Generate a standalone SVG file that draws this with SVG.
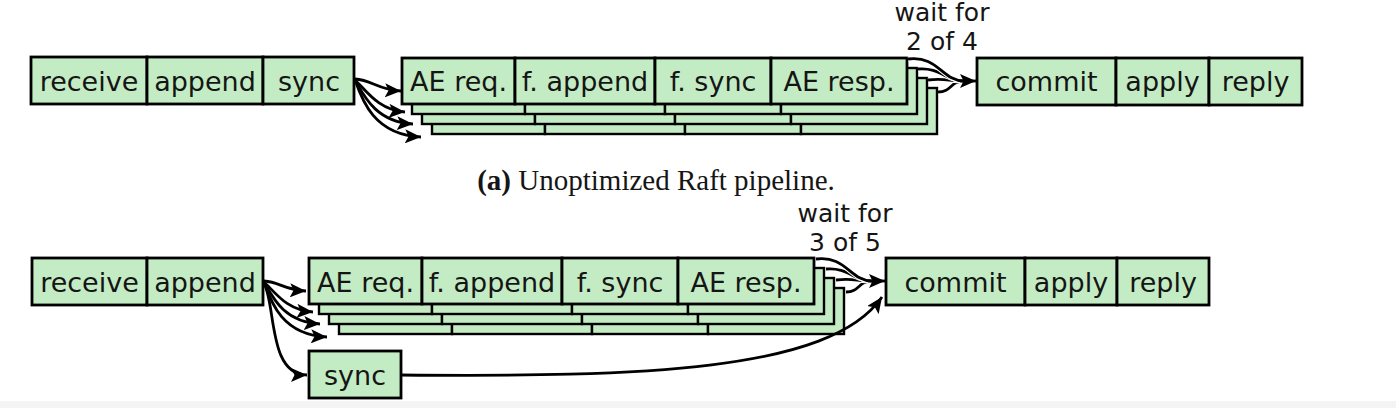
<svg xmlns="http://www.w3.org/2000/svg" width="1396" height="408" viewBox="0 0 1396 408">
<style>
.b{fill:#c4ecc4;stroke:#000;stroke-width:2.8}
.l{fill:#c4ecc4;stroke:#000;stroke-width:2.4}
.t{font-family:"DejaVu Sans",sans-serif;font-size:27px;fill:#151515;text-anchor:middle}
.w{font-family:"DejaVu Sans",sans-serif;font-size:25px;fill:#151515;text-anchor:middle}
.c{fill:none;stroke:#000;stroke-width:2.8}
.h{fill:none;stroke:#fff;stroke-width:5}
.cap{font-family:"Liberation Serif",serif;font-size:29px;fill:#151515;text-anchor:middle}
</style>
<defs>
<marker id="ah" markerUnits="userSpaceOnUse" markerWidth="18" markerHeight="14" refX="16" refY="7" orient="auto">
<path d="M0,0 L16,7 L0,14 L3.5,7 z" fill="#000"/>
</marker>
<g id="stk1">
<rect x="0" y="0" width="113" height="46"/>
<rect x="113" y="0" width="140" height="46"/>
<rect x="253" y="0" width="116" height="46"/>
<rect x="369" y="0" width="136" height="46"/>
</g>
</defs>
<rect x="0" y="0" width="1396" height="408" fill="#fff"/>
<rect x="0" y="401" width="1396" height="7" fill="#f4f4f4"/>

<!-- Top: unoptimized -->
<g id="top-leader">
<rect class="b" x="31" y="57" width="116" height="47"/>
<rect class="b" x="147" y="57" width="116" height="47"/>
<rect class="b" x="263" y="57" width="91" height="47"/>
<text class="t" x="89" y="91">receive</text>
<text class="t" x="205" y="91">append</text>
<text class="t" x="309" y="91">sync</text>
</g>
<g id="top-followers">
<use href="#stk1" class="l" x="432" y="88"/>
<use href="#stk1" class="l" x="422" y="78"/>
<use href="#stk1" class="l" x="412" y="68"/>
<use href="#stk1" class="b" x="402" y="58"/>
<text class="t" x="458.5" y="91">AE req.</text>
<text class="t" x="585" y="91">f. append</text>
<text class="t" x="713" y="91">f. sync</text>
<text class="t" x="839" y="91">AE resp.</text>
</g>
<g id="top-commit">
<rect class="b" x="977" y="58" width="139" height="47"/>
<rect class="b" x="1116" y="58" width="93" height="47"/>
<rect class="b" x="1209" y="58" width="93" height="47"/>
<text class="t" x="1046.5" y="91">commit</text>
<text class="t" x="1162.5" y="91">apply</text>
<text class="t" x="1255.5" y="91">reply</text>
</g>
<g id="top-wait">
<text class="w" x="942" y="20.5">wait for<tspan x="942" y="50">2 of 4</tspan></text>
</g>
<g id="top-caption">
<text class="cap" x="656" y="190"><tspan font-weight="bold">(a)</tspan> Unoptimized Raft pipeline.</text>
</g>

<!-- Bottom: optimized -->
<g id="bot-leader">
<rect class="b" x="32" y="258" width="115" height="47"/>
<rect class="b" x="147" y="258" width="116" height="47"/>
<text class="t" x="89.5" y="292">receive</text>
<text class="t" x="205" y="292">append</text>
</g>
<g id="bot-followers">
<use href="#stk1" class="l" x="339" y="288"/>
<use href="#stk1" class="l" x="329" y="278"/>
<use href="#stk1" class="l" x="319" y="268"/>
<use href="#stk1" class="b" x="309" y="258"/>
<text class="t" x="365.5" y="292">AE req.</text>
<text class="t" x="492" y="292">f. append</text>
<text class="t" x="620" y="292">f. sync</text>
<text class="t" x="746" y="292">AE resp.</text>
</g>
<g id="bot-sync">
<rect class="b" x="309" y="351" width="92" height="47"/>
<text class="t" x="355" y="385">sync</text>
</g>
<g id="bot-commit">
<rect class="b" x="886" y="258" width="139" height="47"/>
<rect class="b" x="1025" y="258" width="92" height="47"/>
<rect class="b" x="1117" y="258" width="92" height="47"/>
<text class="t" x="955.5" y="292">commit</text>
<text class="t" x="1071" y="292">apply</text>
<text class="t" x="1163" y="292">reply</text>
</g>
<g id="bot-wait">
<text class="w" x="845" y="221.5">wait for<tspan x="845" y="251">3 of 5</tspan></text>
</g>

<g id="connectors">
<!-- top fan-out -->
<path class="c" marker-end="url(#ah)" d="M355,79 C372,80 378,90 401,91"/>
<path class="c" marker-end="url(#ah)" d="M355,80 C366,90 378,110 405,112"/>
<path class="c" marker-end="url(#ah)" d="M355,80 C364,96 376,122 413,124"/>
<path class="c" marker-end="url(#ah)" d="M355,80 C362,100 374,135 421,137"/>
<!-- top fan-in -->
<path class="h" d="M938,92 C952,92 950,81 964,81"/>
<path class="c" d="M938,92 C952,92 950,81 964,81"/>
<path class="h" d="M928,80 C945,78 948,81 964,81"/>
<path class="c" d="M928,80 C945,78 948,81 964,81"/>
<path class="h" d="M918,69 C940,67 946,81 964,81"/>
<path class="c" d="M918,69 C940,67 946,81 964,81"/>
<path class="h" d="M908,59 C938,55 942,81 964,81"/>
<path class="c" d="M908,59 C938,55 942,81 964,81"/>
<path class="c" marker-end="url(#ah)" d="M960,81 L976,81"/>
<!-- bottom fan-out -->
<path class="c" marker-end="url(#ah)" d="M264,281 C280,282 284,290 306,291"/>
<path class="c" marker-end="url(#ah)" d="M264,282 C275,292 286,310 313,312"/>
<path class="c" marker-end="url(#ah)" d="M264,282 C273,298 284,322 320,324"/>
<path class="c" marker-end="url(#ah)" d="M264,282 C271,302 282,335 327,337"/>
<path class="c" marker-end="url(#ah)" d="M264,283 C276,305 268,375 307,375"/>
<!-- bottom fan-in -->
<path class="h" d="M846,292 C860,292 858,281 872,281"/>
<path class="c" d="M846,292 C860,292 858,281 872,281"/>
<path class="h" d="M836,280 C853,278 856,281 872,281"/>
<path class="c" d="M836,280 C853,278 856,281 872,281"/>
<path class="h" d="M826,269 C848,267 854,281 872,281"/>
<path class="c" d="M826,269 C848,267 854,281 872,281"/>
<path class="h" d="M816,259 C846,255 850,281 872,281"/>
<path class="c" d="M816,259 C846,255 850,281 872,281"/>
<path class="c" marker-end="url(#ah)" d="M868,281 L885,281"/>
<!-- sync to commit -->
<path class="c" marker-end="url(#ah)" d="M401,375 C640,377 830,372 882,297"/>
</g>
</svg>
